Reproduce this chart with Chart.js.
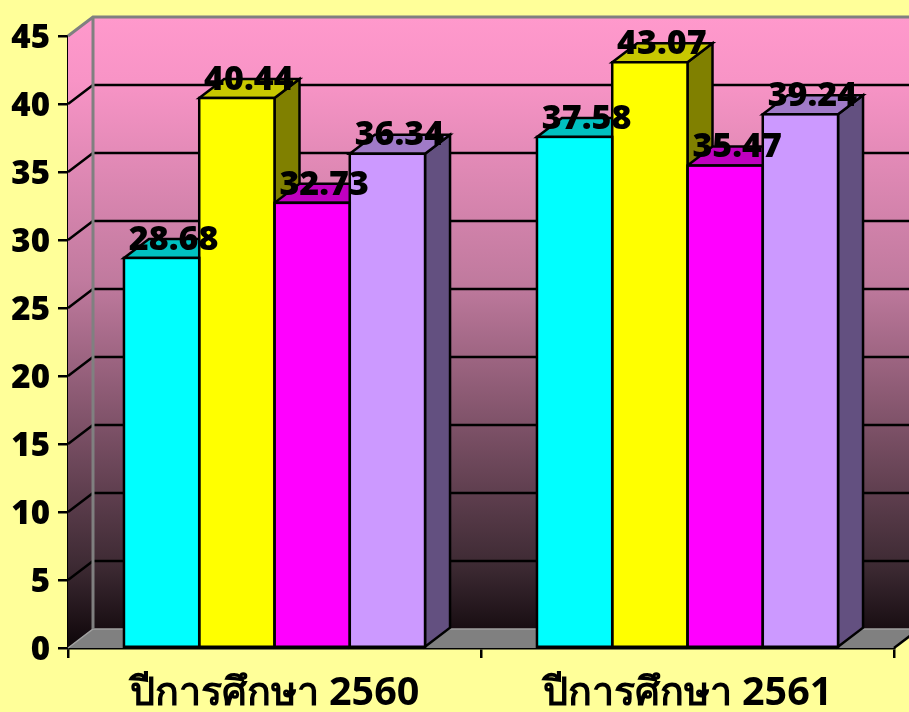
<!DOCTYPE html>
<html><head><meta charset="utf-8">
<style>html,body{margin:0;padding:0;background:#ffff99;overflow:hidden}canvas{display:block}</style>
<script src="https://cdn.jsdelivr.net/npm/chart.js@4"></script>
</head><body><canvas id="c" width="909" height="712"></canvas>
<script>
const categories = ['ปีการศึกษา 2560', 'ปีการศึกษา 2561'];
const seriesA = [28.68, 37.58];
const seriesB = [40.44, 43.07];
const seriesC = [32.73, 35.47];
const seriesD = [36.34, 39.24];
const valueLabels = [['28.68','37.58'],['40.44','43.07'],['32.73','35.47'],['36.34','39.24']];
const frontColors = ['#00ffff','#ffff00','#ff00ff','#cc99ff'];
const topColors = ['#00c0c0','#c8c800','#c000c0','#a07ac8'];
const sideColors = ['#008080','#808000','#800080','#635080'];
const DX = 25, DY = 19;
const FONT = '"Open Sans","Noto Sans","DejaVu Sans",sans-serif';

function poly(ctx, pts, fill, stroke, lw){
  ctx.beginPath();
  pts.forEach((p,i)=> i?ctx.lineTo(p[0],p[1]):ctx.moveTo(p[0],p[1]));
  ctx.closePath();
  if(fill){ctx.fillStyle=fill;ctx.fill();}
  if(stroke){ctx.strokeStyle=stroke;ctx.lineWidth=lw;ctx.lineJoin='miter';ctx.stroke();}
}

const scene3d = {
  id:'scene3d',
  beforeDatasetsDraw(chart){
    const {ctx,chartArea:a,scales:{x,y}} = chart;
    const y0=y.getPixelForValue(0), yT=y.getPixelForValue(45);
    ctx.save();
    const g=ctx.createLinearGradient(0,yT-DY,0,y0);
    [[0,'#ff99cc'],[.1,'#f894c6'],[.42,'#c07a9e'],[.87,'#3d2a33'],[.965,'#1a0f14'],[1,'#0c0508']]
      .forEach(s=>g.addColorStop(s[0],s[1]));
    poly(ctx,[[a.left+DX,yT-DY],[a.right+DX,yT-DY],[a.right+DX,y0-DY],[a.left+DX,y0-DY]],g);
    poly(ctx,[[a.left,yT],[a.left+DX,yT-DY],[a.left+DX,y0-DY],[a.left,y0]],g);
    ctx.strokeStyle='#000';ctx.lineWidth=2.5;
    y.ticks.forEach(t=>{
      if(t.value===0||t.value===45)return;
      const p=y.getPixelForValue(t.value);
      ctx.beginPath();ctx.moveTo(a.left,p);ctx.lineTo(a.left+DX,p-DY);ctx.lineTo(a.right+DX,p-DY);ctx.stroke();
    });
    poly(ctx,[[a.left,y0],[a.left+DX,y0-DY],[a.right+DX,y0-DY],[a.right,y0]],'#808080');
    ctx.strokeStyle='#a0a0a0';ctx.lineWidth=1.5;
    ctx.beginPath();ctx.moveTo(a.left,y0);ctx.lineTo(a.left+DX,y0-DY);ctx.lineTo(a.right+DX,y0-DY);ctx.stroke();
    ctx.strokeStyle='#808080';ctx.lineWidth=3;
    ctx.beginPath();ctx.moveTo(a.left,yT);ctx.lineTo(a.left+DX,yT-DY);ctx.lineTo(a.right+DX,yT-DY);
    ctx.moveTo(a.left+DX,yT-DY);ctx.lineTo(a.left+DX,y0-DY);ctx.stroke();
    ctx.strokeStyle='#000';ctx.lineWidth=2.5;
    ctx.beginPath();ctx.moveTo(a.right,y0);ctx.lineTo(a.right+DX,y0-DY);ctx.stroke();
    for(let i=0;i<categories.length;i++){
      chart.data.datasets.forEach((d,k)=>{
        const b=chart.getDatasetMeta(k).data[i];
        const L=b.x-b.width/2,R=b.x+b.width/2,T=b.y,B=b.base;
        poly(ctx,[[R,T],[R+DX,T-DY],[R+DX,B-DY],[R,B]],sideColors[k],'#000',2.5);
        poly(ctx,[[L,T],[L+DX,T-DY],[R+DX,T-DY],[R,T]],topColors[k],'#000',2.5);
      });
    }
    ctx.restore();
  },
  afterDatasetsDraw(chart){
    const {ctx,scales:{y}}=chart;
    ctx.save();
    ctx.strokeStyle='#000';ctx.lineWidth=2.5;
    chart.data.datasets.forEach((d,k)=>{
      chart.getDatasetMeta(k).data.forEach(b=>{
        ctx.strokeRect(b.x-b.width/2,b.y,b.width,b.base-b.y);
      });
    });
    ctx.font='800 34px '+FONT;ctx.fillStyle='#000';ctx.textAlign='center';ctx.textBaseline='middle';
    chart.data.datasets.forEach((d,k)=>{
      chart.getDatasetMeta(k).data.forEach((b,i)=>{
        ctx.fillText(valueLabels[k][i],b.x+12,b.y-18);
      });
    });
    ctx.font='800 33px '+FONT;ctx.textAlign='right';
    y.ticks.forEach(t=>{
      ctx.fillText(t.label,50,y.getPixelForValue(t.value)+3);
    });
    ctx.restore();
  }
};

const datasets=[seriesA,seriesB,seriesC,seriesD].map((v,k)=>({
  data:v,backgroundColor:frontColors[k],borderWidth:0,
  barPercentage:1,categoryPercentage:0.729
}));

new Chart(document.getElementById('c'),{
  type:'bar',
  data:{labels:categories,datasets},
  plugins:[scene3d],
  options:{
    responsive:false,animation:false,devicePixelRatio:1,
    layout:{padding:{top:36,right:15,bottom:0,left:0}},
    plugins:{legend:{display:false},tooltip:{enabled:false},title:{display:false}},
    scales:{
      y:{
        min:0,max:45,
        afterFit(s){s.width=68;},
        ticks:{stepSize:5,display:false},
        grid:{drawOnChartArea:false,drawTicks:true,tickLength:10,color:'#000',lineWidth:2.5},
        border:{color:'#000',width:2.5}
      },
      x:{
        afterFit(s){s.height=64;},
        ticks:{color:'#000',font:{family:FONT,size:39.5,weight:'bold'},padding:12,maxRotation:0},
        grid:{drawOnChartArea:false,drawTicks:true,tickLength:10,color:'#000',lineWidth:2.5},
        border:{color:'#000',width:2.5}
      }
    }
  }
});
</script></body></html>
